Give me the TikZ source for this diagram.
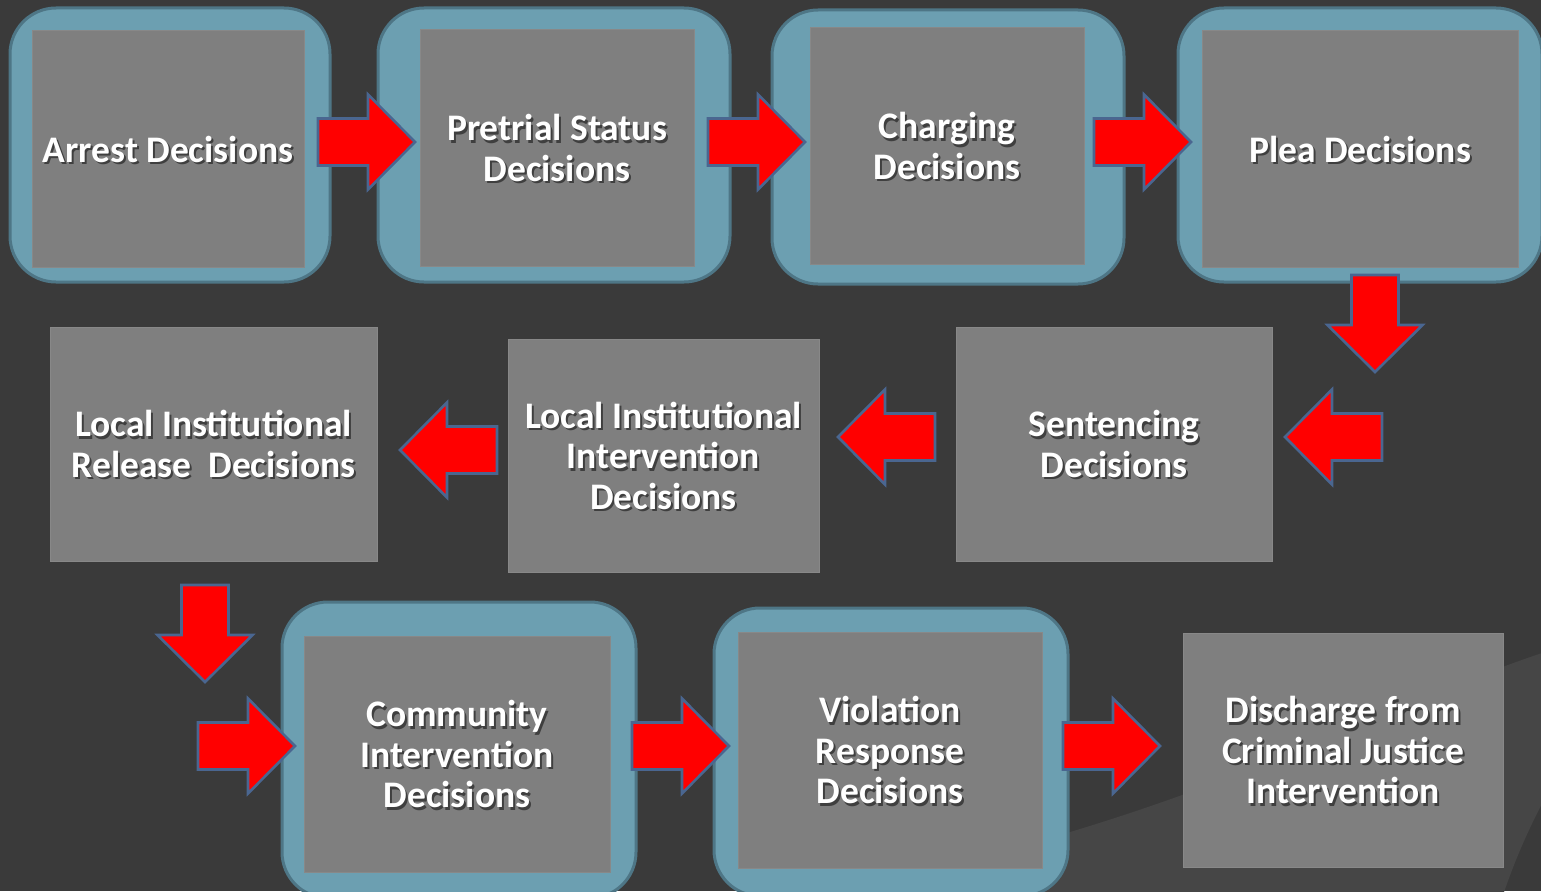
\documentclass[tikz,border=0pt]{standalone}
\usepackage{fontspec}
\setmainfont{Carlito}
\definecolor{bgdark}{HTML}{3A3A3A}
\definecolor{bgswoosh}{HTML}{464646}
\definecolor{framefill}{HTML}{6C9FB1}
\definecolor{framerim}{HTML}{4E7686}
\definecolor{boxfill}{HTML}{7F7F7F}
\definecolor{boxrim}{HTML}{888888}
\definecolor{arrowred}{HTML}{FF0000}
\definecolor{arrowrim}{HTML}{4A6690}

\tikzset{
  blockarrow/.pic={
    \path[redarrow] (0,-23.5) -- (50,-23.5) -- (50,-47.5) -- (97,0)
      -- (50,47.5) -- (50,23.5) -- (0,23.5) -- cycle;
  }
}

% name, x, y, width, height, text
\newcommand\stage[6]{%
  \node[stagebox, minimum width=#4pt, minimum height=#5pt] (#1) at (#2,#3) {};
  \node[stageshadow] (#1-shade) at ([shift={(2,2.5)}]#1.center) {#6};
  \node[stagetext] (#1-text) at (#1.center) {#6};
}
% name, x, y, width, height
\newcommand\stageframe[5]{%
  \node[stageframe, minimum width=#4pt, minimum height=#5pt] (#1) at (#2,#3) {};
}

\begin{document}
\begin{tikzpicture}[x=1pt,y=-1pt,
  stageframe/.style={draw=framerim, line width=3pt, fill=framefill,
    rounded corners=46pt, inner sep=0pt},
  stagebox/.style={draw=boxrim, line width=1pt, fill=boxfill, inner sep=0pt},
  stagetext/.style={text=white, font=\bfseries\fontsize{37.5}{40.5}\selectfont,
    align=center, inner sep=0pt},
  stageshadow/.style={stagetext, text=black, opacity=0.5},
  redarrow/.style={fill=arrowred, draw=arrowrim, line width=2.6pt, line join=miter},
]
\useasboundingbox (0,0) rectangle (1541,891);
\clip (0,0) rectangle (1541,891);

% background and the soft swoosh in the lower right
\fill[bgdark] (0,0) rectangle (1541,891);
\fill[bgswoosh] (1000,852) .. controls (1250,785) and (1400,700) .. (1545,652)
  -- (1545,798) .. controls (1528,830) and (1515,860) .. (1503,895)
  -- (1000,895) -- cycle;

% first row: framed stages
\stageframe{f1}{170}{145}{320}{274}
\stageframe{f2}{554}{145}{352}{274}
\stageframe{f3}{948}{147}{352}{274}
\stageframe{f4}{1360}{145}{364}{274}
\stage{arrest}{168}{149}{272}{236}{Arrest Decisions}
\stage{pretrial}{557}{148}{274}{236}{Pretrial Status\\Decisions}
\stage{charging}{947}{146}{274}{236}{Charging\\Decisions}
\stage{plea}{1360}{149}{316}{236}{Plea Decisions}

% second row
\stage{release}{213.5}{444}{327}{234}{Local Institutional\\Release\ \ Decisions}
\stage{localint}{663.5}{455.5}{311}{233}{Local Institutional\\Intervention\\Decisions}
\stage{sentencing}{1114}{444}{316}{234}{Sentencing\\Decisions}

% third row
\stageframe{f8}{459}{750}{354}{296}
\stageframe{f9}{891}{752}{354}{288}
\stage{community}{457}{754}{306}{236}{Community\\Intervention\\Decisions}
\stage{violation}{890}{750}{304}{236}{Violation\\Response\\Decisions}
\stage{discharge}{1343}{750}{320}{234}{Discharge from\\Criminal Justice\\Intervention}

% block arrows along the flow
\pic at (318,142) {blockarrow};
\pic at (708,142) {blockarrow};
\pic at (1094,142) {blockarrow};
\pic[rotate=-90] at (1375,275) {blockarrow};
\pic[rotate=180] at (1382,437) {blockarrow};
\pic[rotate=180] at (935,437) {blockarrow};
\pic[rotate=180] at (497,450) {blockarrow};
\pic[rotate=-90] at (205,585) {blockarrow};
\pic at (198,746) {blockarrow};
\pic at (632,746) {blockarrow};
\pic at (1063,746) {blockarrow};
\end{tikzpicture}
\end{document}
